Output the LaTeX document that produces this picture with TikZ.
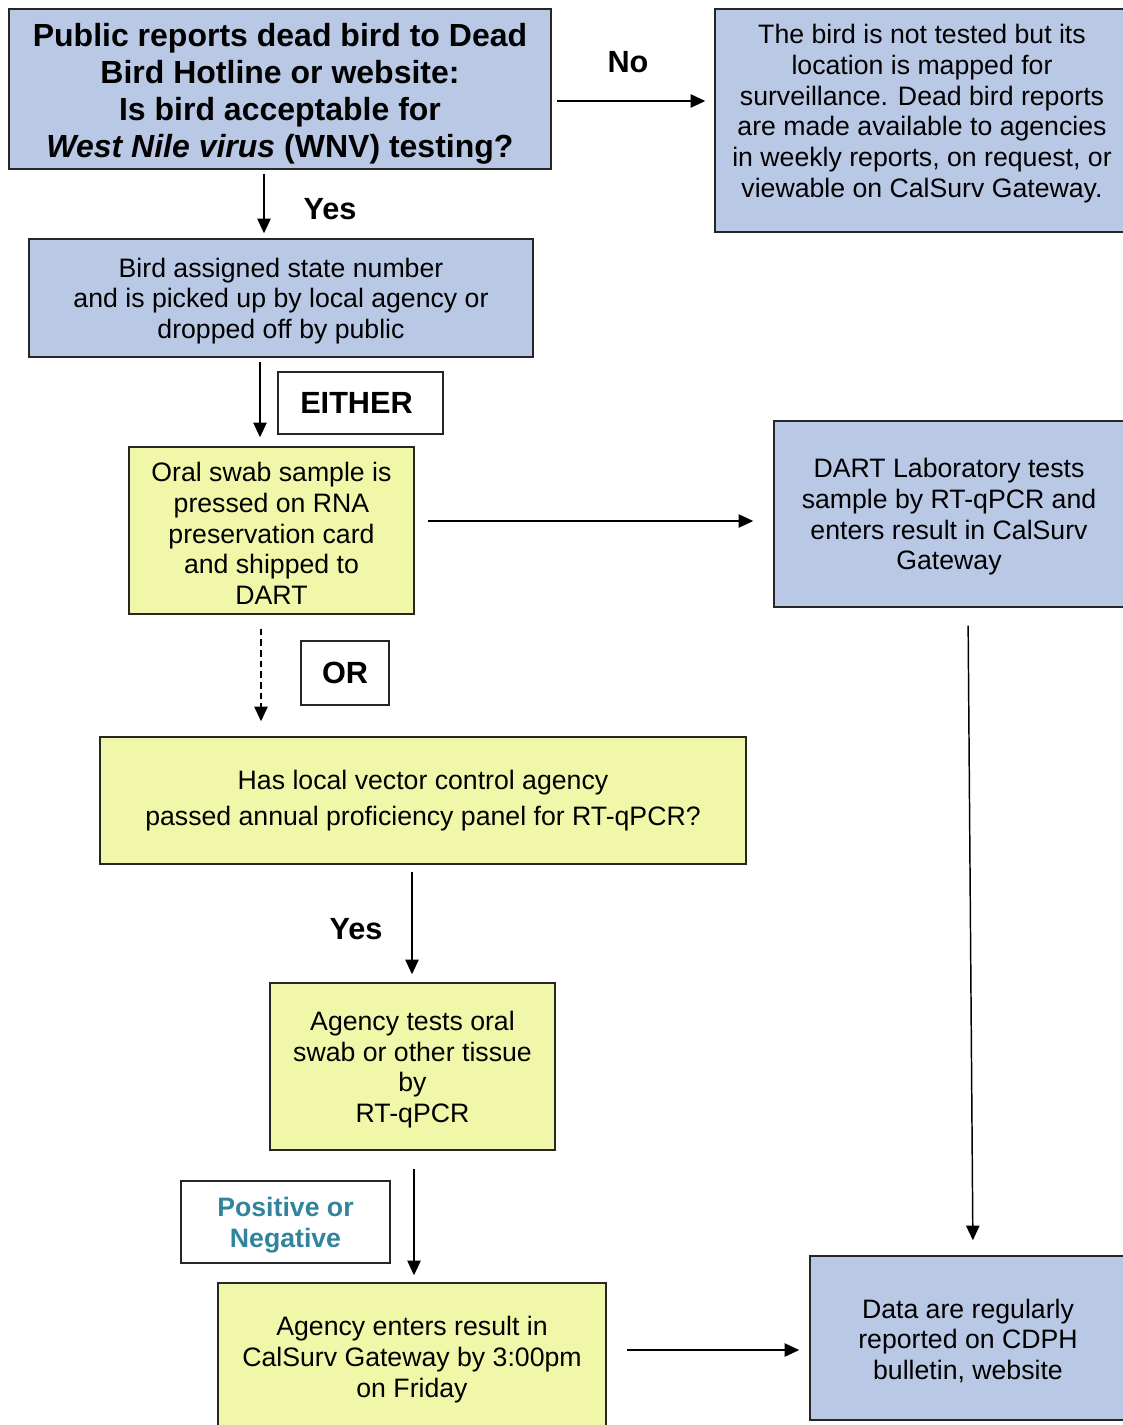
\documentclass[tikz,border=0pt]{standalone}
\usepackage{fontspec}
\setmainfont{Liberation Sans}
\usetikzlibrary{arrows.meta}

\definecolor{boxblue}{RGB}{185,201,229}
\definecolor{boxyellow}{RGB}{241,247,168}
\definecolor{tealtext}{RGB}{49,132,155}

% first-line strut, pushes box text down a little
\newcommand{\fstrut}{\rule{0pt}{19pt}}

\tikzset{
  bluebox/.style={draw=black!85, line width=1.1pt, fill=boxblue, align=center, inner sep=0pt, font=\fontsize{20}{23}\selectfont},
  yellowbox/.style={draw=black!85, line width=1.1pt, fill=boxyellow, align=center, inner sep=0pt, font=\fontsize{20}{23}\selectfont},
  plainbox/.style={draw=black!85, line width=0.8pt, fill=white, align=center, inner sep=0pt},
  lbl/.style={font=\fontsize{23}{27}\selectfont\bfseries},
  arr/.style={line width=1.1pt, -{Triangle[length=11pt,width=10pt]}},
}

\begin{document}
\begin{tikzpicture}[x=0.75pt,y=-0.75pt]
\useasboundingbox (0,0) rectangle (1123,1425);
\clip (0,0) rectangle (1123,1425);

% boxes
\node[bluebox, minimum width=406.5pt, minimum height=120pt, font=\fontsize{24}{27.75}\selectfont\bfseries] (hdr) at (280,89)
  {\rule{0pt}{25pt}Public reports dead bird to Dead\\Bird Hotline or website:\\Is bird acceptable for\\\textit{West Nile virus} (WNV) testing?};
\node[bluebox, minimum width=311.25pt, minimum height=167.25pt] (notest) at (922.5,120.5) {};
\node[align=center, font=\fontsize{20}{23}\selectfont] (notesttxt) at (922,113.5)
  {The bird is not tested but its\\location is mapped for\\surveillance. Dead bird reports\\are made available to agencies\\in weekly reports, on request, or\\viewable on CalSurv Gateway.};
\node[bluebox, minimum width=378pt, minimum height=88.5pt] (assign) at (281,298)
  {\fstrut Bird assigned state number\\and is picked up by local agency or\\dropped off by public};
\node[plainbox, minimum width=123.75pt, minimum height=46.5pt, lbl] (either) at (360.5,403) {EITHER\hspace{6pt}};
\node[yellowbox, minimum width=213.75pt, minimum height=125.25pt] (oral) at (271.5,530.5)
  {\fstrut Oral swab sample is\\pressed on RNA\\preservation card\\and shipped to\\DART};
\node[bluebox, minimum width=262.5pt, minimum height=139.5pt] (dart) at (949,514)
  {\fstrut DART Laboratory tests\\sample by RT-qPCR and\\enters result in CalSurv\\Gateway};
\node[plainbox, minimum width=66pt, minimum height=48pt, lbl] (orbox) at (345,673) {OR};
\node[yellowbox, minimum width=484.5pt, minimum height=95.25pt, font=\fontsize{20}{27}\selectfont] (panel) at (423,800.5)
  {Has local vector control agency\\passed annual proficiency panel for RT-qPCR?};
\node[yellowbox, minimum width=213.75pt, minimum height=125.25pt] (agtest) at (412.5,1066.5)
  {\fstrut Agency tests oral\\swab or other tissue\\by\\RT-qPCR};
\node[plainbox, minimum width=156.75pt, minimum height=61.5pt, text=tealtext, font=\fontsize{20}{23}\selectfont\bfseries] (posneg) at (285.5,1222)
  {\fstrut Positive or\\Negative};
\node[yellowbox, minimum width=291pt, minimum height=110.25pt] (enter) at (412,1356.5)
  {\fstrut Agency enters result in\\CalSurv Gateway by 3:00pm\\on Friday};
\node[bluebox, minimum width=237pt, minimum height=123pt] (data) at (968,1338)
  {\fstrut Data are regularly\\reported on CDPH\\bulletin, website};

% labels
\node[lbl] (nolbl) at (628,62) {No};
\node[lbl] (yes1) at (330,209) {Yes};
\node[lbl] (yes2) at (356,929) {Yes};

% connectors
\draw[arr, shorten <=3.75pt, shorten >=6.75pt] (hdr.east |- 0,101) -- (notest.west |- 0,101);
\draw[arr, shorten <=3pt, shorten >=3.75pt] (264,0 |- hdr.south) -- (264,0 |- assign.north);
\draw[arr, shorten <=3pt, shorten >=6.75pt] (260,0 |- assign.south) -- (260,0 |- oral.north);
\draw[arr, shorten <=9.75pt, shorten >=15pt] (oral.east |- 0,521) -- (dart.west |- 0,521);
\draw[arr, dash pattern=on 5pt off 3pt, shorten <=10.5pt, shorten >=11.25pt] (261,0 |- oral.south) -- (261,0 |- panel.north);
\draw[arr, shorten <=5.25pt, shorten >=6pt] (412,0 |- panel.south) -- (412,0 |- agtest.north);
\draw[arr, shorten <=13.5pt, shorten >=5.25pt] (414,0 |- agtest.south) -- (414,0 |- enter.north);
\draw[arr, shorten <=15pt, shorten >=7.5pt] (enter.east |- 0,1350) -- (data.west |- 0,1350);
\draw[arr, shorten <=13.5pt, shorten >=11.25pt] (968,0 |- dart.south) -- (973,0 |- data.north);
\end{tikzpicture}
\end{document}
